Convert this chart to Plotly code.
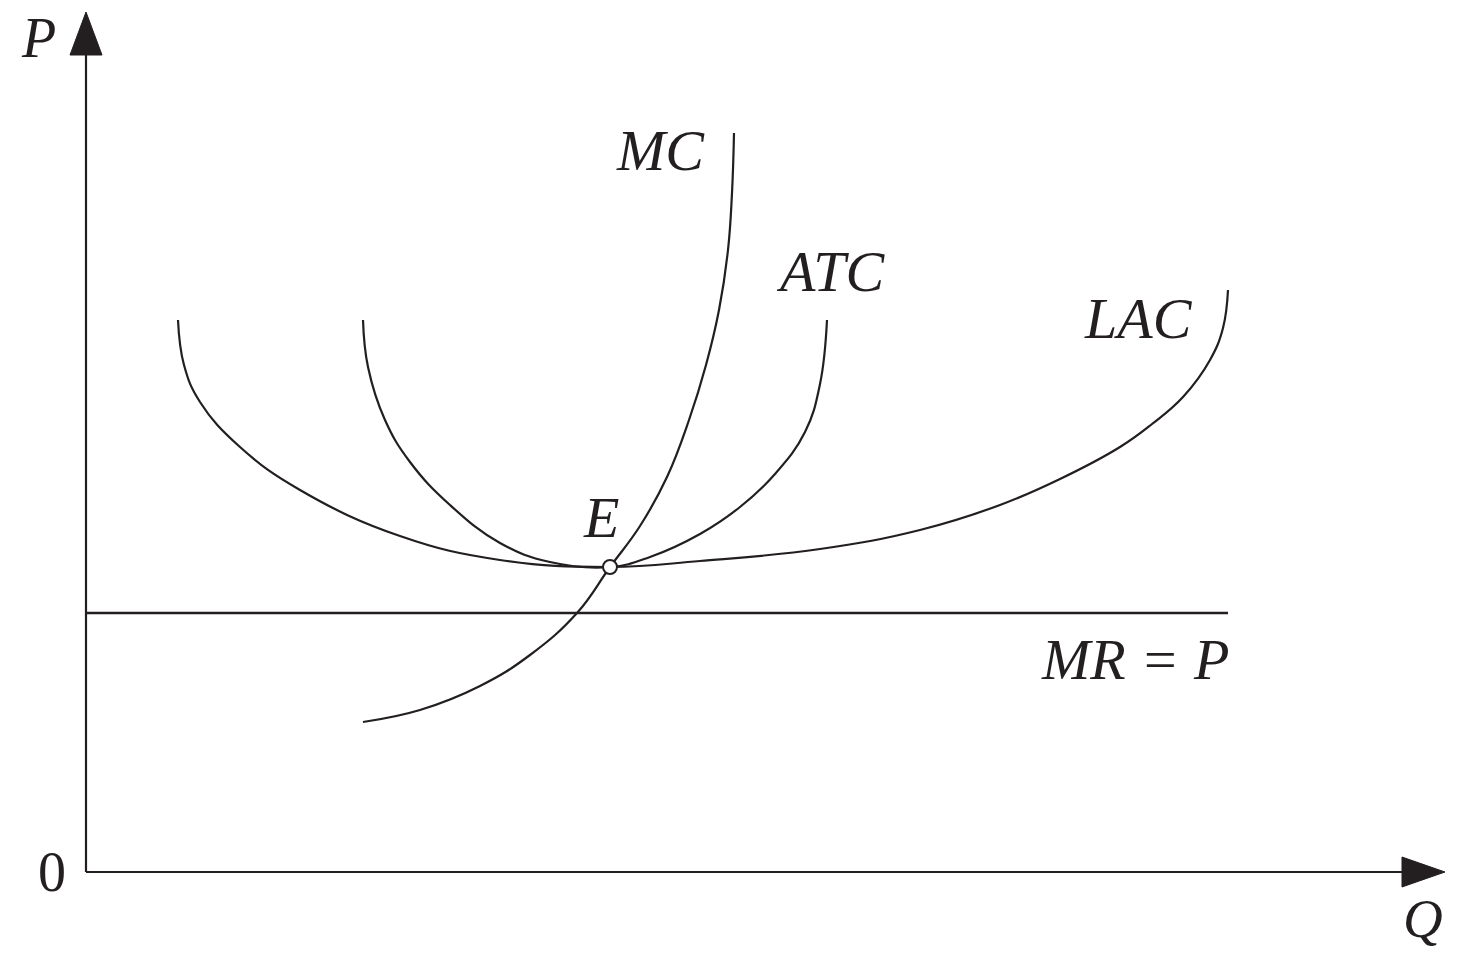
import plotly.graph_objects as go

# curve readings, Q = quantity, P = price (origin at the axes corner)
lac_q = [92, 98, 114, 154, 214, 314, 414, 524, 614, 734, 834, 914, 974, 1034, 1066, 1097, 1124, 1137, 1142]
lac_p = [552, 507, 470, 425, 382, 336, 312, 305, 311, 323, 342, 367, 393, 425, 448, 475, 512, 544, 582]

atc_q = [277, 282, 299, 324, 364, 414, 464, 524, 564, 614, 654, 689, 719, 734, 741]
atc_p = [552, 505, 452, 410, 367, 329, 310, 305, 315, 338, 365, 398, 440, 488, 552]

mc_q = [277, 334, 394, 444, 491, 524, 554, 581, 603, 620, 633, 642, 646, 648]
mc_p = [150, 162, 186, 217, 259, 305, 346, 395, 452, 507, 562, 622, 679, 739]

mr_q = [0, 1142]
mr_p = [259, 259]

e_q = [524]
e_p = [305]

q_axis_end = 1359
p_axis_end = 860

labels = ['MC', 'ATC', 'LAC', 'E', 'MR = P']
label_q = [574, 745, 1052, 515, 1049]
label_p = [722, 601, 554, 355, 213]

INK = '#231f20'
FONT = 'Liberation Serif, Times New Roman, serif'


def add_curve(fig: go.Figure, q, p, width=2.2) -> None:
    fig.add_trace(
        go.Scatter(
            x=q,
            y=p,
            mode='lines',
            line=dict(color=INK, width=width, shape='spline', smoothing=1.2),
            hoverinfo='skip'
        )
    )


def axis_arrows(head_len=43, head_half=16):
    # vertical axis with head, then horizontal one
    shapes = [
        dict(type='line', xref='x', yref='y', x0=0, y0=0, x1=0, y1=p_axis_end - head_len,
             line=dict(color=INK, width=2.2)),
        dict(type='path', xref='x', yref='y', fillcolor=INK, line=dict(color=INK, width=1),
             path=f'M {-head_half},{p_axis_end - head_len} L {head_half},{p_axis_end - head_len} '
                  f'L 0,{p_axis_end} Z'),
        dict(type='line', xref='x', yref='y', x0=0, y0=0, x1=q_axis_end - head_len, y1=0,
             line=dict(color=INK, width=2.2)),
        dict(type='path', xref='x', yref='y', fillcolor=INK, line=dict(color=INK, width=1),
             path=f'M {q_axis_end - head_len},{-head_half + 1} L {q_axis_end - head_len},{head_half - 1} '
                  f'L {q_axis_end},0 Z'),
    ]
    return shapes


fig = go.Figure()

add_curve(fig, lac_q, lac_p)
add_curve(fig, atc_q, atc_p)
add_curve(fig, mc_q, mc_p)
add_curve(fig, mr_q, mr_p, width=2.5)

fig.add_trace(
    go.Scatter(
        x=e_q,
        y=e_p,
        mode='markers',
        marker=dict(symbol='circle', size=14, color='white', line=dict(color=INK, width=2)),
        hoverinfo='skip'
    )
)

annotations = []
for text, q, p in zip(labels, label_q, label_p):
    annotations.append(
        dict(x=q, y=p, xref='x', yref='y', text=f'<i>{text}</i>', showarrow=False,
             font=dict(family=FONT, size=58, color=INK), xanchor='center', yanchor='middle')
    )

# axis names and origin
annotations.append(dict(x=-48, y=834, xref='x', yref='y', text='<i>P</i>', showarrow=False,
                        font=dict(family=FONT, size=56, color=INK)))
annotations.append(dict(x=1337, y=-46, xref='x', yref='y', text='<i>Q</i>', showarrow=False,
                        font=dict(family=FONT, size=55, color=INK)))
annotations.append(dict(x=-34, y=0, xref='x', yref='y', text='0', showarrow=False,
                        font=dict(family=FONT, size=56, color=INK)))

fig.update_layout(
    width=1447,
    height=942,
    margin=dict(l=0, r=0, t=0, b=0),
    paper_bgcolor='white',
    plot_bgcolor='white',
    showlegend=False,
    xaxis=dict(range=[-78, 1369], visible=False, fixedrange=True),
    yaxis=dict(range=[-78, 864], visible=False, fixedrange=True),
    shapes=axis_arrows(),
    annotations=annotations
)

fig.write_html("out.html", config={'displayModeBar': False})
